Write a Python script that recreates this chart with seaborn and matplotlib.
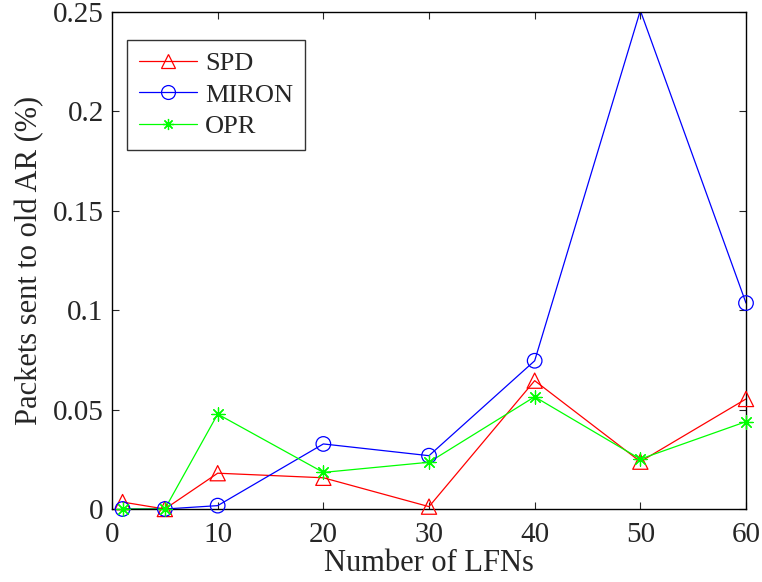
import matplotlib
matplotlib.use("Agg")
import matplotlib.pyplot as plt
from matplotlib.lines import Line2D
import seaborn as sns
import pandas as pd

lfns = [1, 5, 10, 20, 30, 40, 50, 60]
spd = [0.0035, 0.0, 0.018, 0.0157, 0.0012, 0.0645, 0.0238, 0.0553]
miron = [0.0, 0.0, 0.0017, 0.0327, 0.0268, 0.0745, 0.2505, 0.1035]
opr = [0.0, 0.0, 0.0477, 0.0184, 0.0235, 0.0564, 0.0251, 0.0439]
series_names = ["SPD", "MIRON", "OPR"]
colors = ["#ff0000", "#0000ff", "#00ff00"]
markers = ["^", "o", (8, 2, 0)]
xticks = [0, 10, 20, 30, 40, 50, 60]
yticks = [0, 0.05, 0.1, 0.15, 0.2, 0.25]
ytick_labels = ["0", "0.05", "0.1", "0.15", "0.2", "0.25"]

sns.set_style("white")
plt.rcParams["font.family"] = ["Liberation Serif", "DejaVu Serif"]

df = pd.DataFrame({
    "x": lfns * 3,
    "y": spd + miron + opr,
    "series": sum([[n] * len(lfns) for n in series_names], []),
})

fig = plt.figure(figsize=(7.62, 5.82), dpi=100)
ax = fig.add_axes([0.147, 0.1254, 0.832, 0.8548])
ax.set_xlim(0, 60)
ax.set_ylim(0, 0.25)

sizes = [120, 110, 90]
handles = []
for name, c, m, s in zip(series_names, colors, markers, sizes):
    sub = df[df["series"] == name]
    sns.lineplot(data=sub, x="x", y="y", ax=ax, color=c, linewidth=0.9,
                 legend=False)
    inside = sub[sub["y"] <= 0.25]
    if isinstance(m, tuple):
        sns.scatterplot(data=inside, x="x", y="y", ax=ax, marker=m, s=s,
                        color=c, edgecolor=c, linewidth=0.9, legend=False,
                        zorder=3)
    else:
        sns.scatterplot(data=inside, x="x", y="y", ax=ax, marker=m, s=s,
                        facecolor="none", edgecolor=c, linewidth=0.9,
                        legend=False, zorder=3)
    handles.append(Line2D([0], [0], color=c, marker=m, linewidth=0.9,
                          markersize=10 if not isinstance(m, tuple) else 8,
                          markerfacecolor="none", markeredgecolor=c,
                          markeredgewidth=0.9, label=name))
for coll in ax.collections:
    coll.set_clip_on(False)

ax.set_xticks(xticks)
ax.set_yticks(yticks)
ax.set_yticklabels(ytick_labels)
ax.tick_params(axis="both", labelsize=21, direction="in", length=5,
               width=0.8, top=True, right=True, bottom=True, left=True)
ax.tick_params(axis="x", pad=9)
ax.tick_params(axis="y", pad=6)
ax.set_xlabel("Number of LFNs", fontsize=22, labelpad=1)
ax.set_ylabel("Packets sent to old AR (%)", fontsize=22, labelpad=6)
for sp in ax.spines.values():
    sp.set_color("black")
    sp.set_linewidth(1.0)

leg = ax.legend(handles=handles, loc="upper left", bbox_to_anchor=(0.024, 0.943),
                borderaxespad=0, fontsize=19, frameon=True, fancybox=False,
                edgecolor="black", handlelength=2.2, borderpad=0.45,
                labelspacing=0.3, handletextpad=0.3)
leg.get_frame().set_linewidth(1.0)

fig.savefig("out.png", dpi=100)
